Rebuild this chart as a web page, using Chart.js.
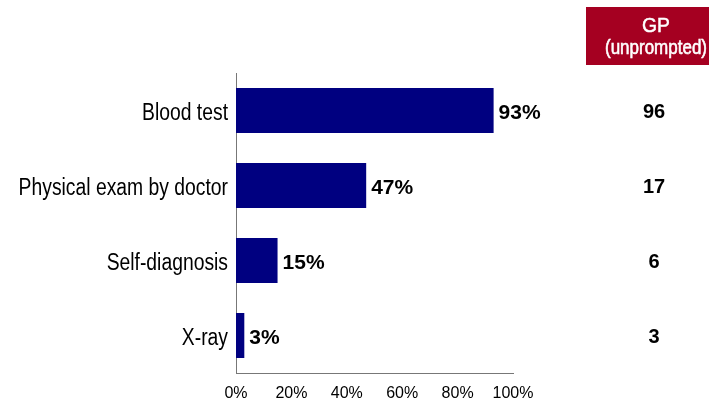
<!DOCTYPE html>
<html><head><meta charset="utf-8">
<script src="https://cdn.jsdelivr.net/npm/chart.js@4/dist/chart.umd.min.js"></script>
<style>html,body{margin:0;padding:0;background:#fff}#wrap{width:712px;height:402px;position:relative}</style>
</head><body><div id="wrap"><canvas id="c" width="712" height="402"></canvas></div>
<script>
const categories = ["Blood test", "Physical exam by doctor", "Self-diagnosis", "X-ray"];
const percentValues = [93, 47, 15, 3];
const gpValues = [96, 17, 6, 3];
const xTicks = [0, 20, 40, 60, 80, 100];
const gpHeader = ["GP", "(unprompted)"];

const SANS = '"Liberation Sans", Arial, sans-serif';

function narrowText(ctx, text, x, y, sx, align, strokeW) {
  ctx.save();
  ctx.translate(x, y);
  ctx.scale(sx, 1);
  ctx.textAlign = align;
  ctx.fillText(text, 0, 0);
  if (strokeW) {
    ctx.strokeStyle = ctx.fillStyle;
    ctx.lineWidth = strokeW;
    ctx.strokeText(text, 0, 0);
  }
  ctx.restore();
}

const overlay = {
  id: 'overlay',
  afterDatasetsDraw(chart) {
    const ctx = chart.ctx;
    const meta = chart.getDatasetMeta(0);
    const yScale = chart.scales.y;
    ctx.save();
    ctx.textBaseline = 'alphabetic';
    // category labels (condensed look)
    ctx.fillStyle = '#000';
    ctx.font = '23px ' + SANS;
    categories.forEach((c, i) => {
      const y = yScale.getPixelForTick(i);
      narrowText(ctx, c, 228, y + 9, 0.84, 'right');
    });
    // value labels
    ctx.font = 'bold 21px ' + SANS;
    ctx.textAlign = 'left';
    meta.data.forEach((bar, i) => {
      ctx.fillText(percentValues[i] + '%', bar.x + 5, bar.y + 8.5);
    });
    // GP header box
    ctx.fillStyle = '#A50021';
    ctx.fillRect(586, 7, 123, 58);
    ctx.fillStyle = '#fff';
    ctx.font = '21px ' + SANS;
    narrowText(ctx, gpHeader[0], 656, 31.5, 0.92, 'center', 0.5);
    ctx.font = '20px ' + SANS;
    narrowText(ctx, gpHeader[1], 656, 54, 0.85, 'center', 0.6);
    // GP values
    ctx.fillStyle = '#000';
    ctx.font = 'bold 20px ' + SANS;
    ctx.textAlign = 'center';
    meta.data.forEach((bar, i) => {
      ctx.fillText(String(gpValues[i]), 654, bar.y + 7);
    });
    ctx.restore();
  }
};

new Chart(document.getElementById('c'), {
  type: 'bar',
  data: {
    labels: categories,
    datasets: [{
      data: percentValues,
      backgroundColor: '#000080',
      borderWidth: 0,
      categoryPercentage: 0.6,
      barPercentage: 1.0
    }]
  },
  options: {
    indexAxis: 'y',
    responsive: false,
    animation: false,
    layout: { padding: { left: 0, right: 199, top: 73, bottom: 0 } },
    plugins: { legend: { display: false }, tooltip: { enabled: false } },
    scales: {
      x: {
        min: 0, max: 100,
        afterBuildTicks(scale) { scale.ticks = xTicks.map(v => ({ value: v })); },
        afterFit(scale) { scale.height = 29; },
        grid: { display: false, drawOnChartArea: false, drawTicks: true, tickLength: 4, tickColor: '#555', tickWidth: 1 },
        border: { display: true, color: '#777', width: 1 },
        ticks: { color: '#000', font: { family: SANS, size: 16 }, padding: 7,
          callback: v => v + '%' }
      },
      y: {
        afterFit(scale) { scale.width = 236; },
        grid: { display: false, drawTicks: false },
        border: { display: true, color: '#777', width: 1 },
        ticks: { display: false }
      }
    }
  },
  plugins: [overlay]
});
</script></body></html>
